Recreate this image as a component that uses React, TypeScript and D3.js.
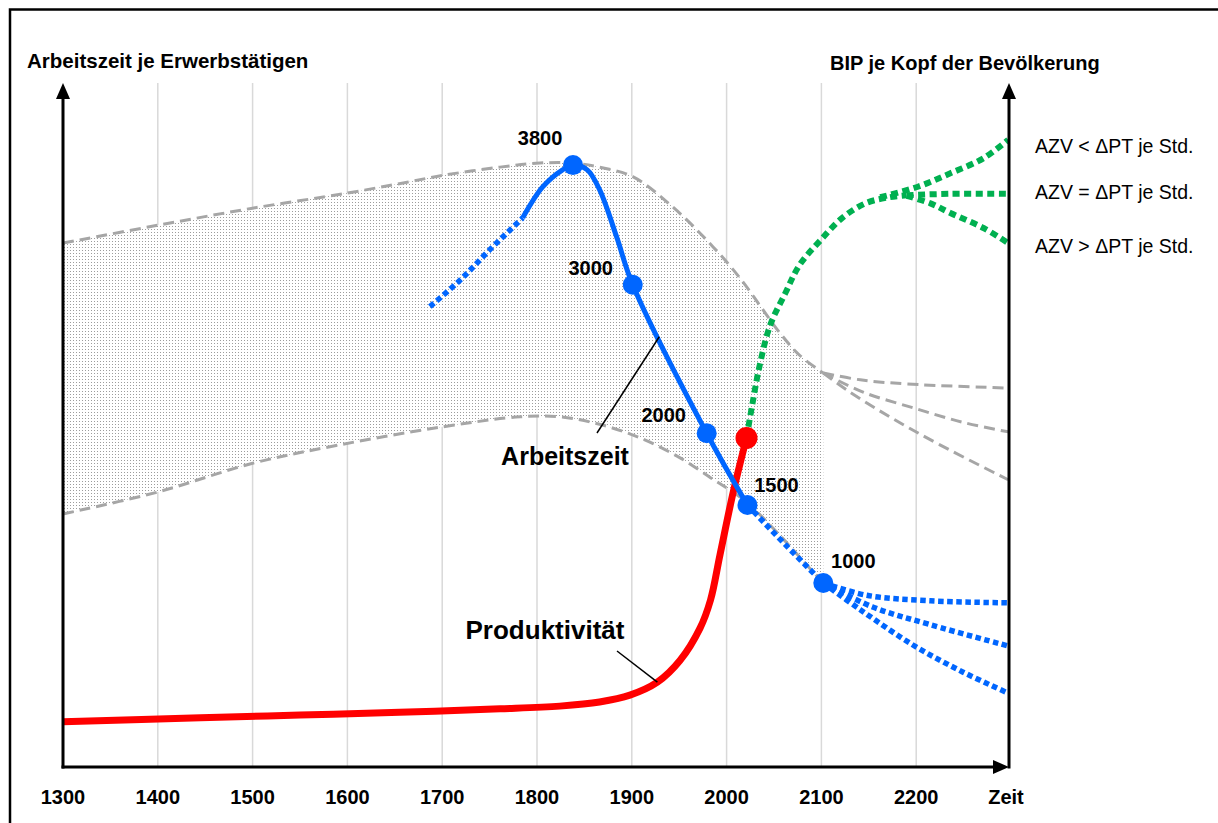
import React from 'react';
import * as d3 from 'd3';

type P = [number, number];

// x: year, y: abstract index (0..100)
const tickYears = [1300, 1400, 1500, 1600, 1700, 1800, 1900, 2000, 2100, 2200];
const gridYears = [1400, 1500, 1600, 1700, 1800, 1900, 2000, 2100, 2200];
const axisEndLabel = 'Zeit';

const bandUpper: P[] = [
  [1300, 76.6], [1400, 79.2], [1500, 81.7], [1600, 83.9], [1663, 85.5], [1701, 86.5],
  [1761, 87.7], [1803, 88.3], [1838, 88.3], [1866, 87.7], [1901, 86.3], [1943, 81.9],
  [1986, 76.0], [2014, 71.5], [2035, 67.5], [2056, 63.5], [2077, 60.2], [2102, 57.6],
];
const bandLower: P[] = [
  [1300, 37.0], [1400, 40.2], [1500, 44.4], [1592, 47.1], [1699, 49.7], [1782, 51.2],
  [1824, 51.2], [1866, 50.1], [1909, 48.1], [1951, 45.2], [1983, 42.3], [2000, 40.8],
  [2022, 38.6], [2056, 33.9], [2077, 30.7], [2102, 26.9],
];
const grayBranchTop: P[] = [[2102, 57.6], [2141, 56.6], [2190, 56.0], [2297, 55.4]];
const grayBranchMid: P[] = [[2102, 57.6], [2144, 54.8], [2197, 52.5], [2249, 50.4], [2297, 49.0]];
const grayBranchLow: P[] = [[2102, 57.6], [2127, 55.1], [2172, 51.2], [2225, 47.1], [2297, 42.0]];

const workEarly: P[] = [[1687, 67.3], [1719, 71.2], [1750, 75.6], [1785, 80.3]];
const workSolid: P[] = [
  [1785, 80.3], [1806, 84.8], [1827, 87.3], [1838, 88.0], [1853, 87.3], [1866, 84.4],
  [1884, 77.5], [1901, 70.5], [1979, 48.8], [2022, 38.3],
];
const workLate: P[] = [[2022, 38.3], [2062, 32.5], [2102, 26.9]];
const workBranchTop: P[] = [[2102, 26.9], [2148, 25.1], [2215, 24.3], [2297, 24.0]];
const workBranchMid: P[] = [[2102, 26.9], [2154, 23.4], [2215, 20.8], [2297, 17.7]];
const workBranchLow: P[] = [[2102, 26.9], [2141, 23.0], [2197, 17.8], [2249, 13.9], [2297, 10.8]];

const workPointYears = [1838, 1901, 1979, 2022, 2102];
const workPointValues = [88.0, 70.5, 48.8, 38.3, 26.9];
const workPointLabels = ['3800', '3000', '2000', '1500', '1000'];

const productivity: P[] = [
  [1300, 6.6], [1445, 7.2], [1550, 7.6], [1655, 8.0], [1761, 8.5], [1824, 8.9], [1866, 9.5],
  [1898, 10.5], [1927, 12.4], [1951, 15.6], [1972, 20.3], [1983, 24.4], [1993, 31.0],
  [2007, 40.2], [2021, 48.1],
];
const productivityEnd: P = [2021, 48.1];

const gdp: P[] = [
  [2021, 48.1], [2027, 52.9], [2035, 58.8], [2046, 64.6], [2062, 69.3], [2077, 73.4],
  [2099, 77.0], [2123, 80.4], [2148, 82.5], [2172, 83.3], [2190, 83.6],
];
const gdpBranchTop: P[] = [[2162, 83.3], [2201, 84.8], [2236, 86.8], [2271, 89.0], [2297, 91.7]];
const gdpBranchMid: P[] = [[2190, 83.6], [2236, 83.8], [2297, 83.8]];
const gdpBranchLow: P[] = [[2190, 83.5], [2215, 82.4], [2236, 81.0], [2271, 78.8], [2297, 76.6]];

const scenarioLabels = ['AZV < ΔPT je Std.', 'AZV = ΔPT je Std.', 'AZV > ΔPT je Std.'];
const leftTitle = 'Arbeitszeit je Erwerbstätigen';
const rightTitle = 'BIP je Kopf der Bevölkerung';
const workLabel = 'Arbeitszeit';
const prodLabel = 'Produktivität';

const FONT = "'Liberation Sans', Arial, sans-serif";
const BLUE = '#0066FF';
const RED = '#FF0000';
const GREEN = '#00B050';
const GRAY = '#A6A6A6';

export default function App() {
  const W = 1218;
  const H = 823;
  const x = d3.scaleLinear().domain([1300, 2300]).range([63, 1011]);
  const y = d3.scaleLinear().domain([0, 100]).range([767, 83]);
  const line = d3
    .line<P>()
    .x((d) => x(d[0]))
    .y((d) => y(d[1]))
    .curve(d3.curveCatmullRom.alpha(0.5));

  const x0 = x(1300);
  const xR = 1009;
  const yB = y(0);
  const yTop = y(100);

  const bandPath =
    (line(bandUpper) || '') + (line([...bandLower].reverse()) || '').replace(/^M/, 'L') + 'Z';

  const labelOffsets: P[] = [[-33, -20], [-42, -10], [-43, -11], [29, -13], [30, -15]];

  const grayDash = { fill: 'none', stroke: GRAY, strokeWidth: 3, strokeDasharray: '11 6' };
  const blueDot = { fill: 'none', stroke: BLUE, strokeWidth: 5.5, strokeDasharray: '5.5 3.5' };
  const greenDot = { fill: 'none', stroke: GREEN, strokeWidth: 6, strokeDasharray: '7 4.5' };

  return (
    <svg
      width={W}
      height={H}
      style={{ position: 'absolute', left: 0, top: 0, background: '#fff' }}
      fontFamily={FONT}
    >
      <defs>
        <pattern id="dots" width={3} height={3} patternUnits="userSpaceOnUse">
          <rect width={3} height={3} fill="#fff" />
          <rect x={1} y={1} width={1} height={1} fill="#9c9c9c" />
        </pattern>
      </defs>
      <rect x={0} y={0} width={W} height={H} fill="#fff" />
      {/* frame */}
      <rect x={10} y={9.5} width={1400} height={1000} fill="none" stroke="#000" strokeWidth={2.5} />

      {/* grid */}
      {gridYears.map((yr) => (
        <line key={yr} x1={x(yr)} x2={x(yr)} y1={yTop} y2={yB} stroke="#D9D9D9" strokeWidth={1.5} />
      ))}

      {/* band */}
      <path d={bandPath} fill="url(#dots)" stroke="none" />
      <path d={line(bandUpper) || ''} style={grayDash} />
      <path d={line(bandLower) || ''} style={grayDash} />
      {[grayBranchTop, grayBranchMid, grayBranchLow].map((b, i) => (
        <path key={i} d={line(b) || ''} style={grayDash} />
      ))}

      {/* productivity */}
      <path d={line(productivity) || ''} fill="none" stroke={RED} strokeWidth={7} />

      {/* GDP */}
      <path d={line(gdp) || ''} style={greenDot} />
      {[gdpBranchTop, gdpBranchMid, gdpBranchLow].map((b, i) => (
        <path key={i} d={line(b) || ''} style={greenDot} />
      ))}

      {/* working time */}
      <path d={line(workEarly) || ''} style={blueDot} />
      <path d={line(workSolid) || ''} fill="none" stroke={BLUE} strokeWidth={5} />
      <path d={line(workLate) || ''} style={blueDot} />
      {[workBranchTop, workBranchMid, workBranchLow].map((b, i) => (
        <path key={i} d={line(b) || ''} style={blueDot} />
      ))}
      {workPointYears.map((yr, i) => (
        <circle key={yr} cx={x(yr)} cy={y(workPointValues[i])} r={10} fill={BLUE} />
      ))}
      <circle cx={x(productivityEnd[0])} cy={y(productivityEnd[1])} r={11} fill={RED} />

      {workPointLabels.map((lab, i) => (
        <text
          key={lab}
          x={x(workPointYears[i]) + labelOffsets[i][0]}
          y={y(workPointValues[i]) + labelOffsets[i][1]}
          textAnchor="middle"
          fontWeight="bold"
          fontSize={20}
        >
          {lab}
        </text>
      ))}

      {/* callouts */}
      <line x1={597} y1={433} x2={x(1929)} y2={y(62.9)} stroke="#000" strokeWidth={1.5} />
      <text x={565} y={465} textAnchor="middle" fontWeight="bold" fontSize={25}>
        {workLabel}
      </text>
      <line x1={617} y1={651} x2={x(1927)} y2={y(12.4)} stroke="#000" strokeWidth={1.5} />
      <text x={545} y={639} textAnchor="middle" fontWeight="bold" fontSize={26}>
        {prodLabel}
      </text>

      {/* axes */}
      <line x1={x0} x2={x0} y1={yB + 1.5} y2={yTop + 14} stroke="#000" strokeWidth={3} />
      <path d={`M${x0},${yTop} L${x0 - 7},${yTop + 16} L${x0 + 7},${yTop + 16} Z`} fill="#000" />
      <line x1={xR} x2={xR} y1={yB + 1.5} y2={yTop + 14} stroke="#000" strokeWidth={3} />
      <path d={`M${xR},${yTop} L${xR - 7},${yTop + 16} L${xR + 7},${yTop + 16} Z`} fill="#000" />
      <line x1={x0 - 1.5} x2={xR - 14} y1={yB} y2={yB} stroke="#000" strokeWidth={3} />
      <path d={`M${xR},${yB} L${xR - 16},${yB - 7} L${xR - 16},${yB + 7} Z`} fill="#000" />

      {/* tick labels */}
      {tickYears.map((yr) => (
        <text key={yr} x={x(yr)} y={804} textAnchor="middle" fontWeight="bold" fontSize={20}>
          {yr}
        </text>
      ))}
      <text x={1006} y={804} textAnchor="middle" fontWeight="bold" fontSize={20}>
        {axisEndLabel}
      </text>

      {/* titles */}
      <text x={27} y={68} fontWeight="bold" fontSize={20.5}>
        {leftTitle}
      </text>
      <text x={830} y={70} fontWeight="bold" fontSize={20}>
        {rightTitle}
      </text>
      {scenarioLabels.map((s, i) => (
        <text key={s} x={1035} y={[153, 199, 253][i]} fontSize={19.5}>
          {s}
        </text>
      ))}
    </svg>
  );
}
